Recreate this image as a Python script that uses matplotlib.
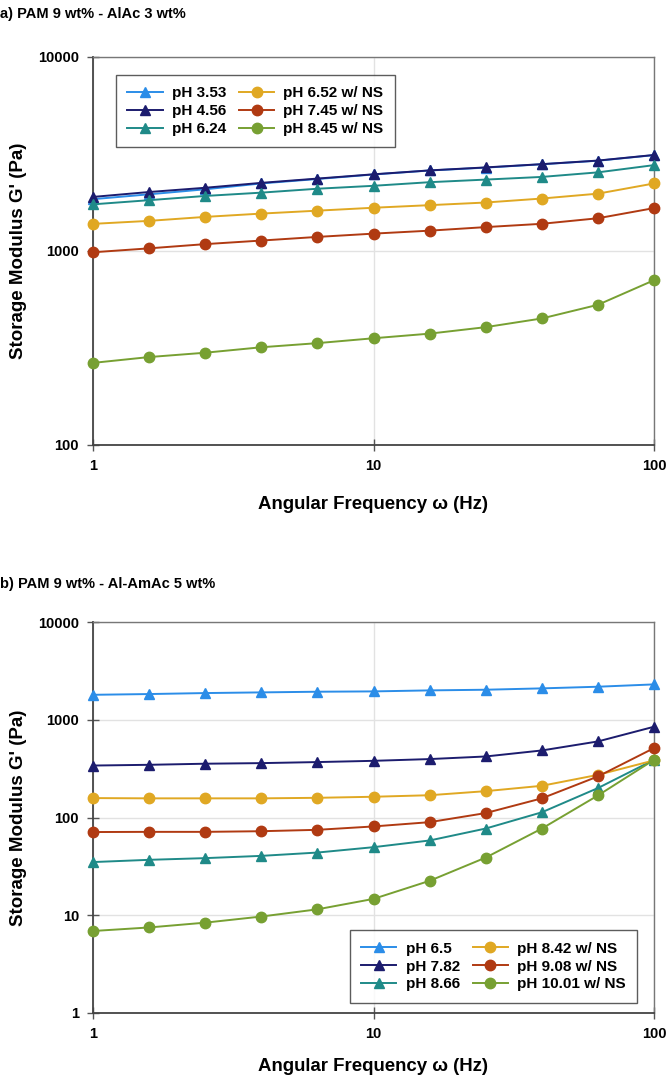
import matplotlib.pyplot as plt
from matplotlib.ticker import FixedLocator, FixedFormatter, NullLocator

plt.rcParams['font.family'] = ['Liberation Sans', 'DejaVu Sans']
plt.rcParams['font.weight'] = 'bold'

# Angular frequency (Hz)
freq = [1, 1.585, 2.512, 3.981, 6.31, 10, 15.85, 25.12, 39.81, 63.1, 100]

# Panel a: PAM 9 wt% - AlAc 3 wt%
a_labels = ["pH 3.53", "pH 4.56", "pH 6.24", "pH 6.52 w/ NS", "pH 7.45 w/ NS", "pH 8.45 w/ NS"]
a_ph353 = [1850, 1960, 2080, 2230, 2350, 2480, 2600, 2690, 2800, 2920, 3120]
a_ph456 = [1900, 2014, 2118, 2245, 2362, 2485, 2603, 2697, 2803, 2925, 3126]
a_ph624 = [1740, 1828, 1922, 1999, 2094, 2168, 2263, 2334, 2409, 2543, 2771]
a_ph652 = [1380, 1430, 1499, 1559, 1614, 1671, 1723, 1778, 1864, 1975, 2229]
a_ph745 = [985, 1032, 1085, 1132, 1182, 1229, 1273, 1328, 1381, 1475, 1664]
a_ph845 = [265, 284, 299, 319, 335, 355, 375, 405, 449, 528, 707]

# Panel b: PAM 9 wt% - Al-AmAc 5 wt%
b_labels = ["pH 6.5", "pH 7.82", "pH 8.66", "pH 8.42 w/ NS", "pH 9.08 w/ NS", "pH 10.01 w/ NS"]
b_ph650 = [1800, 1832, 1875, 1905, 1935, 1950, 1997, 2028, 2094, 2177, 2300]
b_ph782 = [340, 346, 355, 360, 369, 380, 396, 421, 485, 600, 848]
b_ph866 = [35, 36.9, 38.4, 40.5, 43.8, 49.7, 58.2, 77.1, 113, 200, 389]
b_ph842 = [158, 157, 157, 157, 159, 163, 169, 186, 211, 273, 384]
b_ph908 = [71, 71.3, 71.3, 72.4, 74.8, 81, 89.6, 111, 157, 263, 513]
b_ph1001 = [6.9, 7.5, 8.4, 9.7, 11.5, 14.7, 22.5, 38.9, 77, 168, 389]

colors = ['#2b8de8', '#1c1c6e', '#1f8a88', '#e0a823', '#b03a12', '#77a032']
markers = ['^', '^', '^', 'o', 'o', 'o']

fig = plt.figure(figsize=(6.66, 10.8), dpi=100)
ax_a = fig.add_axes([93 / 666, 1 - 445 / 1080, 561 / 666, 388 / 1080])
ax_b = fig.add_axes([93 / 666, 1 - 1013 / 1080, 561 / 666, 391 / 1080])


def style_axes(ax, yticks, xpad):
    ax.set_xscale('log')
    ax.set_yscale('log')
    ax.set_xlim(1, 100)
    ax.set_ylim(yticks[0], yticks[-1])
    ax.xaxis.set_major_locator(FixedLocator([1, 10, 100]))
    ax.xaxis.set_major_formatter(FixedFormatter(['1', '10', '100']))
    ax.xaxis.set_minor_locator(NullLocator())
    ax.yaxis.set_major_locator(FixedLocator(yticks))
    ax.yaxis.set_major_formatter(FixedFormatter([str(t) for t in yticks]))
    ax.yaxis.set_minor_locator(NullLocator())
    ax.grid(True, color='#e2e2e2', linewidth=1)
    ax.set_axisbelow(True)
    ax.tick_params(direction='inout', length=8, width=1, color='#555555',
                   labelsize=10.5, pad=6)
    for lab in ax.get_xticklabels() + ax.get_yticklabels():
        lab.set_fontweight('bold')
    for side in ['left', 'bottom']:
        ax.spines[side].set_color('#444444')
        ax.spines[side].set_linewidth(1.3)
    for side in ['top', 'right']:
        ax.spines[side].set_color('#777777')
        ax.spines[side].set_linewidth(1.0)
    ax.set_xlabel('Angular Frequency \u03c9 (Hz)', fontsize=13.4, fontweight='bold', labelpad=xpad)
    ax.set_ylabel("Storage Modulus G' (Pa)", fontsize=13.5, fontweight='bold', labelpad=8)


leg_kw = dict(ncol=2, frameon=True, fancybox=False, edgecolor='#333333',
              fontsize=11, handlelength=2.3, columnspacing=0.85,
              labelspacing=0.25, borderpad=0.75, handletextpad=0.6,
              borderaxespad=0)

a_series = [a_ph353, a_ph456, a_ph624, a_ph652, a_ph745, a_ph845]
for vals, lab, c, m in zip(a_series, a_labels, colors, markers):
    ax_a.plot(freq, vals, color=c, marker=m, markersize=7.5, linewidth=1.4,
              label=lab, clip_on=False, zorder=3)
style_axes(ax_a, [100, 1000, 10000], 17)
leg_a = ax_a.legend(loc='upper left', bbox_to_anchor=(0.041, 0.954), **leg_kw)
leg_a.get_frame().set_linewidth(1.0)

b_series = [b_ph650, b_ph782, b_ph866, b_ph842, b_ph908, b_ph1001]
for vals, lab, c, m in zip(b_series, b_labels, colors, markers):
    ax_b.plot(freq, vals, color=c, marker=m, markersize=7.5, linewidth=1.4,
              label=lab, clip_on=False, zorder=3)
style_axes(ax_b, [1, 10, 100, 1000, 10000], 12)
leg_b = ax_b.legend(loc='lower right', bbox_to_anchor=(0.970, 0.026), **leg_kw)
leg_b.get_frame().set_linewidth(1.0)

fig.text(0.0, 1 - 14 / 1080, 'a) PAM 9 wt% - AlAc 3 wt%', fontsize=10.5,
         fontweight='bold', va='center', ha='left')
fig.text(0.0, 1 - 584 / 1080, 'b) PAM 9 wt% - Al-AmAc 5 wt%', fontsize=10.5,
         fontweight='bold', va='center', ha='left')

fig.savefig('out.png', dpi=100)
